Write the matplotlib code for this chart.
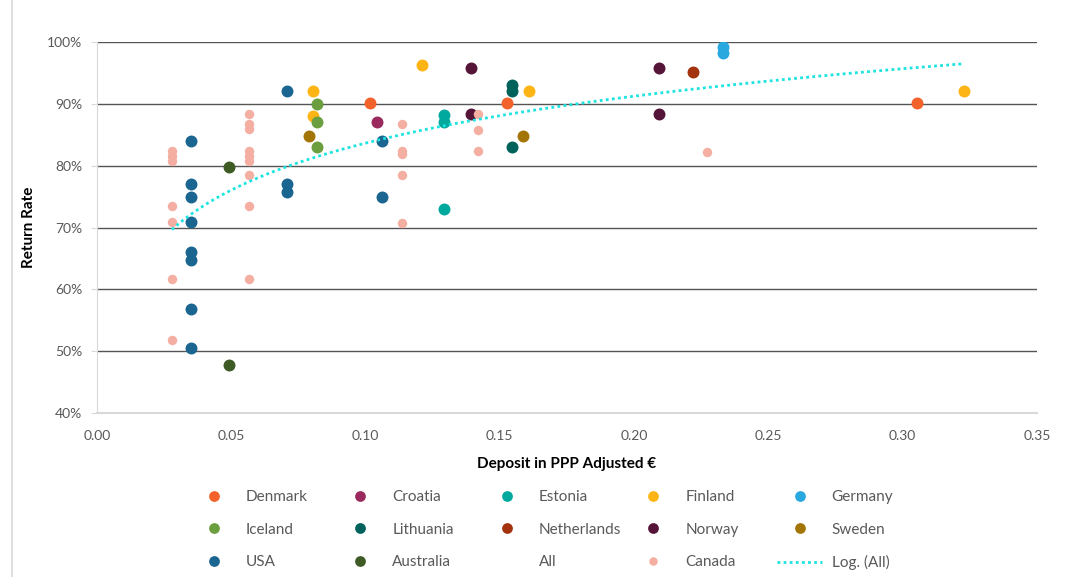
import numpy as np
import matplotlib
matplotlib.use("Agg")
import matplotlib.pyplot as plt
from matplotlib.lines import Line2D
from matplotlib.ticker import PercentFormatter, MultipleLocator

plt.rcParams['font.family'] = ['Lato', 'DejaVu Sans']

# data (deposit in PPP adjusted EUR, return rate)
denmark_x = [0.1015, 0.1525, 0.3052]
denmark_y = [0.901, 0.901, 0.901]
croatia_x = [0.1042]
croatia_y = [0.871]
estonia_x = [0.1291, 0.1291, 0.1291]
estonia_y = [0.881, 0.870, 0.730]
finland_x = [0.0803, 0.0803, 0.1209, 0.1609, 0.3229]
finland_y = [0.920, 0.880, 0.962, 0.920, 0.920]
germany_x = [0.2329, 0.2329]
germany_y = [0.991, 0.981]
iceland_x = [0.0818, 0.0818, 0.0818]
iceland_y = [0.900, 0.871, 0.830]
lithuania_x = [0.1545, 0.1545, 0.1545]
lithuania_y = [0.930, 0.920, 0.830]
netherlands_x = [0.2218]
netherlands_y = [0.951]
norway_x = [0.1394, 0.1394, 0.2093, 0.2093]
norway_y = [0.958, 0.883, 0.958, 0.883]
sweden_x = [0.0789, 0.1587]
sweden_y = [0.848, 0.848]
usa_x = [0.035, 0.035, 0.035, 0.035, 0.035, 0.035, 0.035, 0.035,
         0.0706, 0.0706, 0.0706, 0.106, 0.106]
usa_y = [0.840, 0.770, 0.750, 0.709, 0.660, 0.648, 0.569, 0.505,
         0.920, 0.770, 0.757, 0.840, 0.750]
australia_x = [0.0491, 0.0491]
australia_y = [0.798, 0.478]
canada_x = [0.0279] * 7 + [0.0566] * 9 + [0.1134] * 5 + [0.1417] * 3 + [0.2271]
canada_y = [0.823, 0.815, 0.807, 0.735, 0.709, 0.617, 0.519,
            0.883, 0.867, 0.859, 0.823, 0.815, 0.807, 0.785, 0.735, 0.617,
            0.867, 0.823, 0.819, 0.785, 0.707,
            0.883, 0.858, 0.823,
            0.822]

series = [
    ("Denmark", denmark_x, denmark_y, "#F2622A"),
    ("Croatia", croatia_x, croatia_y, "#9A2A5E"),
    ("Estonia", estonia_x, estonia_y, "#00A99D"),
    ("Finland", finland_x, finland_y, "#FDB515"),
    ("Germany", germany_x, germany_y, "#29A8E0"),
    ("Iceland", iceland_x, iceland_y, "#6B9E3E"),
    ("Lithuania", lithuania_x, lithuania_y, "#00625A"),
    ("Netherlands", netherlands_x, netherlands_y, "#A3330E"),
    ("Norway", norway_x, norway_y, "#551538"),
    ("Sweden", sweden_x, sweden_y, "#A37506"),
    ("USA", usa_x, usa_y, "#1A6690"),
    ("Australia", australia_x, australia_y, "#3E5A25"),
]

fig = plt.figure(figsize=(10.69, 5.77), dpi=100)
ax = fig.add_axes([97 / 1069, 1 - 413.3 / 577, 940 / 1069, 371.6 / 577])

handles = []
for name, xs, ys, col in series:
    h, = ax.plot(xs, ys, 'o', color=col, ms=8.6, mew=0, label=name, zorder=3)
    handles.append(h)

# "All" series: every point, no marker (carries the trendline)
all_x = np.concatenate([np.array(s[1]) for s in series] + [np.array(canada_x)])
all_y = np.concatenate([np.array(s[2]) for s in series] + [np.array(canada_y)])
h_all, = ax.plot(all_x, all_y, linestyle='none', marker='none', label='All')
handles.append(h_all)

h_can, = ax.plot(canada_x, canada_y, 'o', color='#F4AFA2', ms=6.8, mew=0,
                 label='Canada', zorder=4)
handles.append(h_can)

# logarithmic trendline fitted to All
b, a = np.polyfit(np.log(all_x), all_y, 1)
tx = np.linspace(all_x.min(), all_x.max(), 300)
h_tr, = ax.plot(tx, a + b * np.log(tx), color='#1BE3E0', lw=2.0,
                linestyle=(0, (1, 1.2)), label='Log. (All)', zorder=5)
handles.append(h_tr)

ax.set_xlim(0, 0.35)
ax.set_ylim(0.4, 1.0)
ax.xaxis.set_major_locator(MultipleLocator(0.05))
ax.yaxis.set_major_locator(MultipleLocator(0.1))
ax.xaxis.set_major_formatter(matplotlib.ticker.FormatStrFormatter('%.2f'))
ax.yaxis.set_major_formatter(PercentFormatter(1.0, decimals=0))

# gridlines
for yv in np.arange(0.5, 1.01, 0.1):
    ax.axhline(yv, color='#555555', lw=1.0, zorder=1)

for s in ['top', 'right']:
    ax.spines[s].set_visible(False)
ax.spines['left'].set_color('#d9d9d9')
ax.spines['bottom'].set_color('#d9d9d9')
ax.spines['bottom'].set_linewidth(1.5)
ax.tick_params(axis='x', length=0, pad=12, labelsize=10, labelcolor='#595959')
ax.tick_params(axis='y', length=4.5, color='#d9d9d9', pad=6, labelsize=10,
               labelcolor='#595959')

ax.set_ylabel("Return Rate", fontsize=11, fontweight='bold')
ax.set_xlabel("Deposit in PPP Adjusted €", fontsize=11, fontweight='bold')
ax.yaxis.set_label_coords((36 - 97) / 940, 0.5)
ax.xaxis.set_label_coords(0.5, -(457 - 413.3) / 371.6)

# legend, row-major like excel: one legend per column so columns are evenly spaced
for c in range(5):
    hs = [handles[r * 5 + c] for r in range(3)]
    fig.legend(hs, [h.get_label() for h in hs], loc='upper left',
               bbox_to_anchor=((191 + 146.4 * c) / 1069, 1 - 490 / 577),
               frameon=False, fontsize=11, labelcolor='#595959',
               handlelength=3.0, handletextpad=0.6, labelspacing=1.22,
               borderpad=0, borderaxespad=0, markerscale=0.9)

# chart frame edge on the left
fig.add_artist(Line2D([11.5 / 1069, 11.5 / 1069], [0, 1], color='#d9d9d9', lw=1.2))

fig.savefig("out.png", dpi=100)
